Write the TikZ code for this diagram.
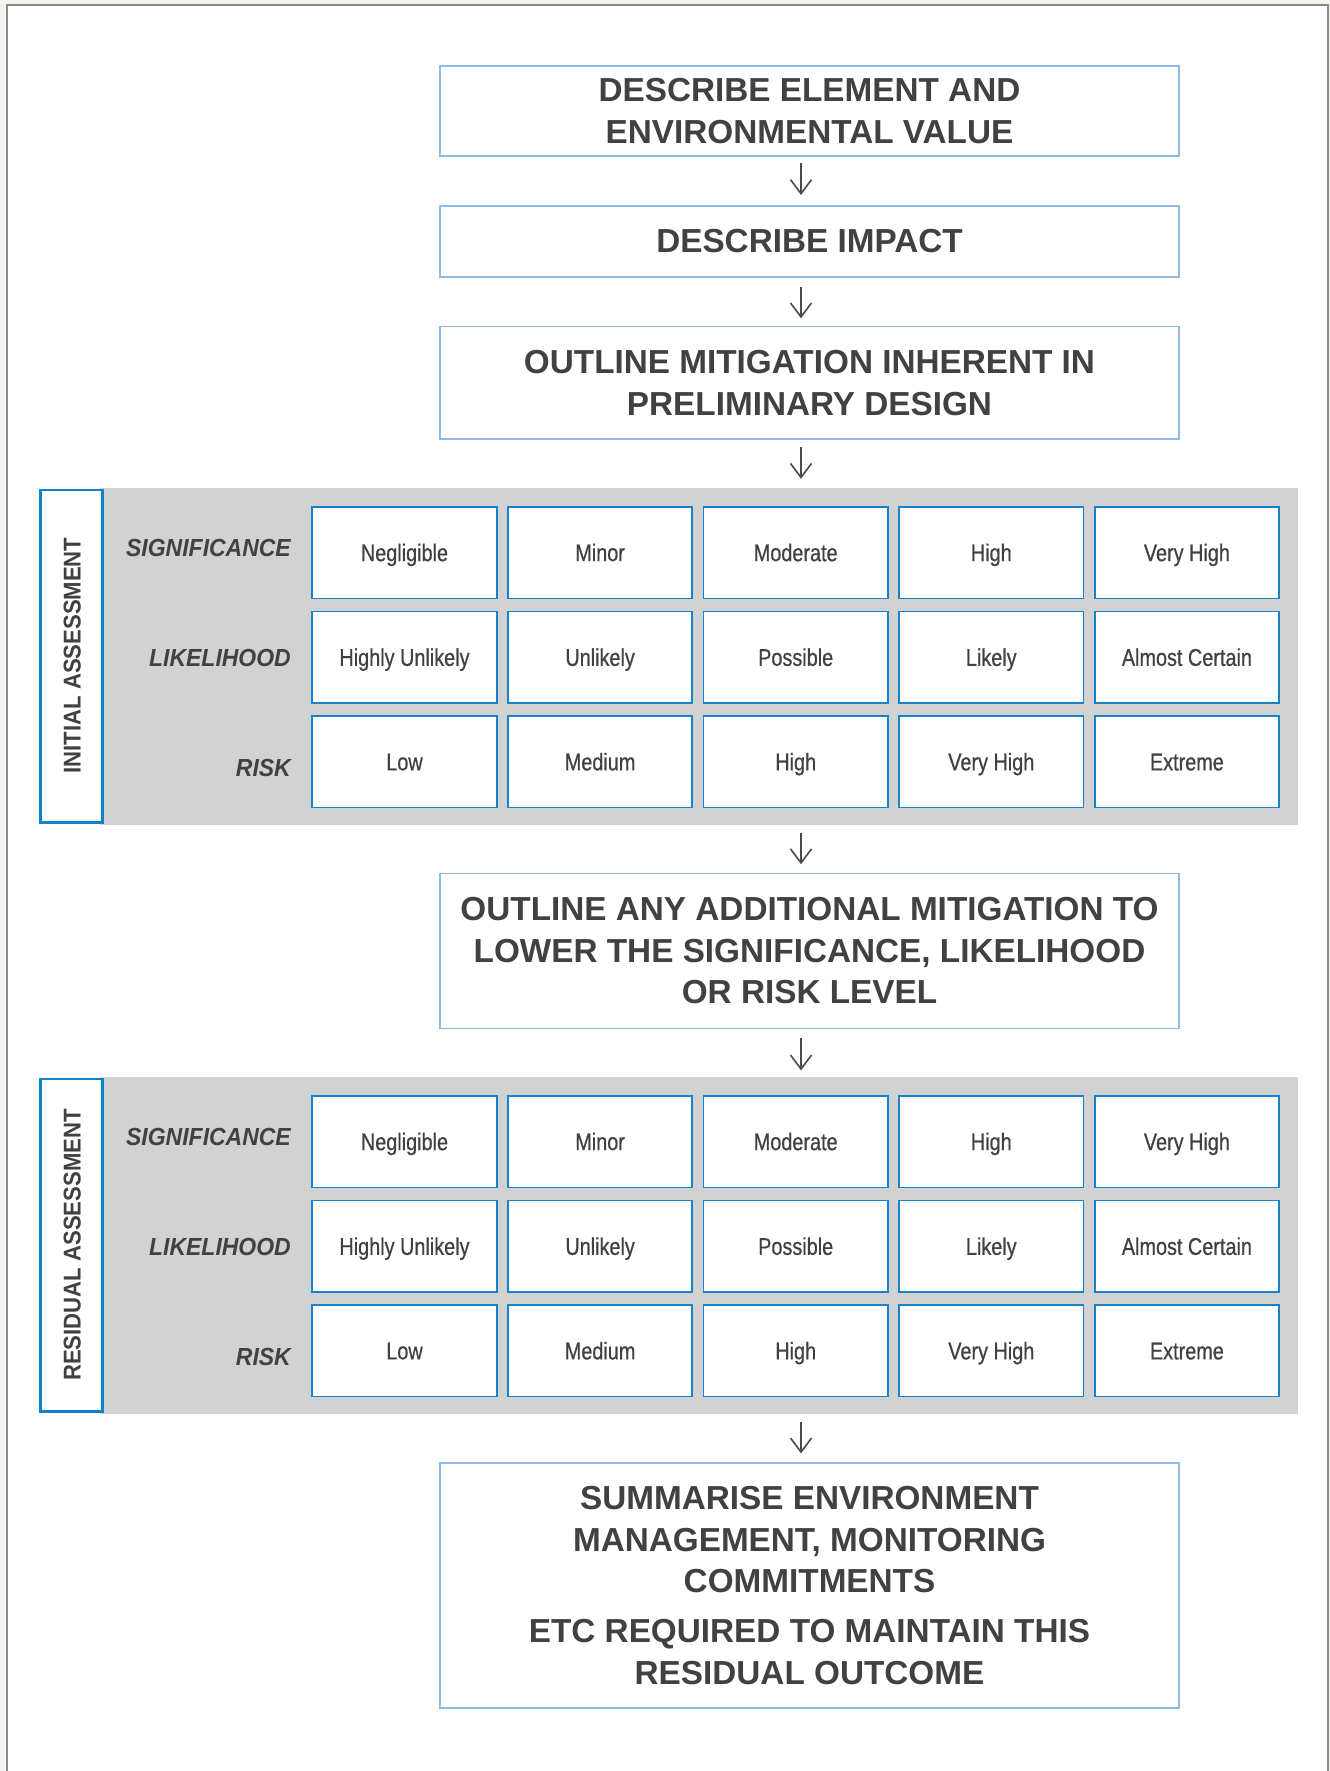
\documentclass[tikz,border=0pt]{standalone}
\usepackage{fontspec}
\setmainfont{Liberation Sans}
\newfontfamily\cellfont[FakeStretch=0.82,FakeBold=0.6]{Liberation Sans}
\newfontfamily\labfont[FakeStretch=0.93]{Liberation Sans}
\newfontfamily\vertfont[FakeStretch=0.91]{Liberation Sans}
\usetikzlibrary{arrows.meta}
\definecolor{txt}{HTML}{414141}
\definecolor{flowblue}{HTML}{8DBBE6}
\definecolor{cellblue}{HTML}{1482CD}
\definecolor{labblue}{HTML}{0B84CC}
\definecolor{band}{HTML}{D2D2D2}
\definecolor{outside}{HTML}{F2F5EE}
\definecolor{frame}{HTML}{8A8A8A}
\definecolor{arrowc}{HTML}{4A4A4A}
\begin{document}
\begin{tikzpicture}[x=1bp,y=-1bp,
  flowbox/.style={draw=flowblue, line width=1.7bp, fill=white, inner sep=0pt,
    minimum width=739.4bp, align=center, text=txt,
    font=\fontsize{33.3bp}{41.5bp}\selectfont\bfseries},
  cellbox/.style={draw=cellblue, line width=1.7bp, fill=white, inner sep=0pt,
    minimum width=184.4bp, minimum height=91.7bp, text=txt,
    text height=17.3bp, text depth=0pt,
    font=\fontsize{24.2bp}{29bp}\cellfont},
  rowlab/.style={anchor=east, inner sep=0pt, text=txt, text height=17.7bp, text depth=0pt,
    font=\fontsize{24.7bp}{29bp}\labfont\bfseries\itshape},
  sidebox/.style={draw=labblue, line width=2.7bp, fill=white, inner sep=0pt,
    minimum width=62bp, minimum height=332.8bp},
  sidelab/.style={rotate=90, inner sep=0pt, text=txt, text height=17.5bp, text depth=0pt,
    font=\fontsize{24.3bp}{29bp}\vertfont\bfseries},
  bandbox/.style={fill=band, inner sep=0pt, minimum width=1197.5bp, minimum height=336.7bp},
  arr/.style={draw=arrowc, line width=1.6bp, -{Straight Barb[length=14bp, width=21bp, line width=1.6bp]}},
]
\useasboundingbox (0,0) rectangle (1330,1771);
% page frame
\fill[outside] (0,0) rectangle (1330,1771);
\fill[white] (6.7,5) rectangle (1328,1771);
\draw[frame, line width=1.8bp] (6.7,1772) -- (6.7,5) -- (1328,5) -- (1328,1772);

\coordinate (ax) at (801,0);

% flow boxes
\node[flowbox, minimum height=90bp] (b1) at (809.5,111) {DESCRIBE ELEMENT AND\\ENVIRONMENTAL VALUE};
\node[flowbox, minimum height=71bp] (b2) at (809.5,241.35) {DESCRIBE IMPACT};
\node[flowbox, minimum height=112.6bp] (b3) at (809.5,382.85) {OUTLINE MITIGATION INHERENT IN\\PRELIMINARY DESIGN};
\node[flowbox, minimum height=155bp] (b4) at (809.5,951) {OUTLINE ANY ADDITIONAL MITIGATION TO\\LOWER THE SIGNIFICANCE, LIKELIHOOD\\OR RISK LEVEL};
\node[flowbox, minimum height=245.3bp] (b5) at (809.5,1585.5) {SUMMARISE ENVIRONMENT\\MANAGEMENT, MONITORING\\COMMITMENTS\\[8.7bp]ETC REQUIRED TO MAINTAIN THIS\\RESIDUAL OUTCOME};

% bands
\node[bandbox] (g1) at (698.75,656.65) {};
\node[bandbox] (g2) at (698.75,1245.65) {};
\node[sidebox] (s1) at (71.7,656.4) {};
\node[sidebox] (s2) at (71.7,1245.4) {};
\node[sidelab] (t1) at (71.9,655.5) {INITIAL ASSESSMENT};
\node[sidelab] (t2) at (71.9,1245) {RESIDUAL ASSESSMENT};

% row labels
\node[rowlab] (l1s) at (291,548) {SIGNIFICANCE};
\node[rowlab] (l1l) at (291,658) {LIKELIHOOD};
\node[rowlab] (l1r) at (291,768) {RISK};
\node[rowlab] (l2s) at (291,1137) {SIGNIFICANCE};
\node[rowlab] (l2l) at (291,1247) {LIKELIHOOD};
\node[rowlab] (l2r) at (291,1357) {RISK};

% cells
\foreach \band/\dy in {1/0,2/589}{
  \foreach \t [count=\i] in {Negligible,Minor,Moderate,High,Very High}
    \node[cellbox] (c\band-s-\i) at ({404.5+195.6*(\i-1)},{552.5+\dy}) {\t};
  \foreach \t [count=\i] in {Highly Unlikely,Unlikely,Possible,Likely,Almost Certain}
    \node[cellbox] (c\band-l-\i) at ({404.5+195.6*(\i-1)},{657.2+\dy}) {\t};
  \foreach \t [count=\i] in {Low,Medium,High,Very High,Extreme}
    \node[cellbox] (c\band-r-\i) at ({404.5+195.6*(\i-1)},{761.7+\dy}) {\t};
}

% arrows
\draw[arr, shorten <=6.6bp, shorten >=10bp] (b1.south -| ax) -- (b2.north -| ax);
\draw[arr, shorten <=9bp, shorten >=7.4bp] (b2.south -| ax) -- (b3.north -| ax);
\draw[arr, shorten <=7.3bp, shorten >=9.3bp] (b3.south -| ax) -- (g1.north -| ax);
\draw[arr, shorten <=7.7bp, shorten >=8.4bp] (g1.south -| ax) -- (b4.north -| ax);
\draw[arr, shorten <=9bp, shorten >=6.7bp] (b4.south -| ax) -- (g2.north -| ax);
\draw[arr, shorten <=7.5bp, shorten >=8.6bp] (g2.south -| ax) -- (b5.north -| ax);
\end{tikzpicture}
\end{document}
